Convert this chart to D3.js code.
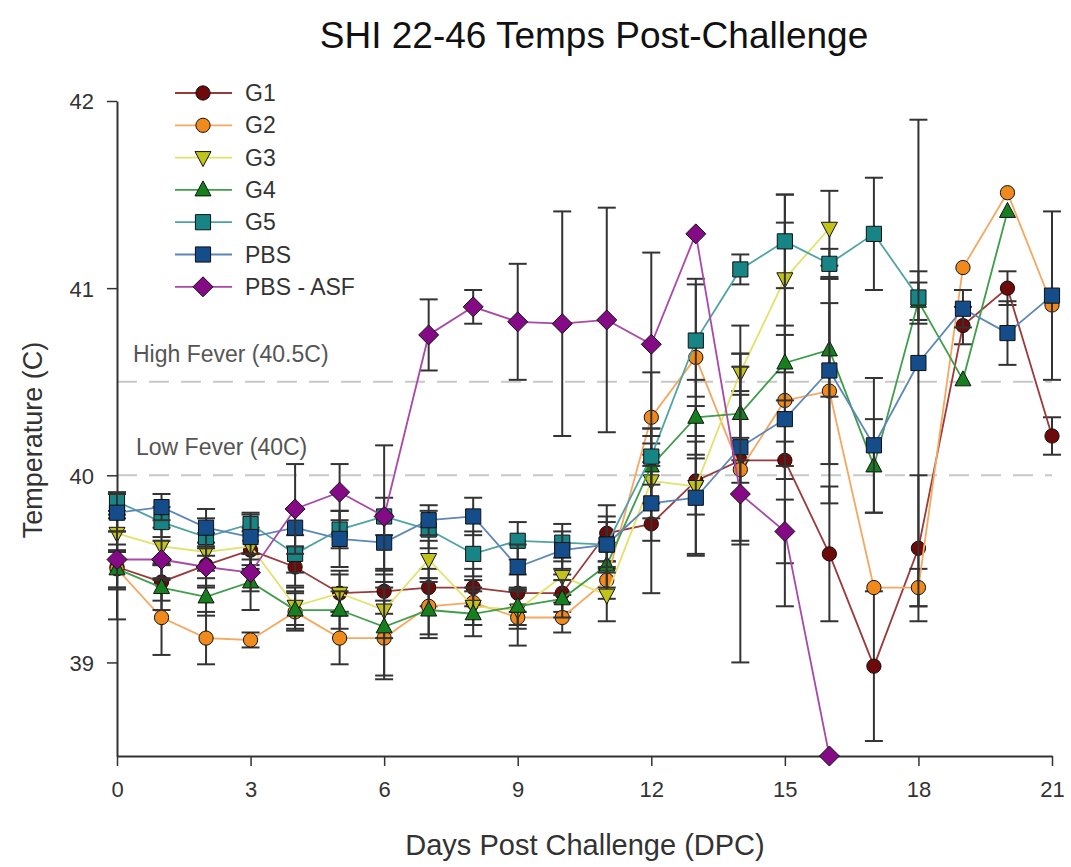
<!DOCTYPE html>
<html>
<head>
<meta charset="utf-8">
<script src="https://cdn.jsdelivr.net/npm/d3@7"></script>
<style>
  body { margin: 0; background: #fff; }
  text { font-family: "Liberation Sans", Arial, sans-serif; }
</style>
</head>
<body>
<div id="chart"></div>
<script>
// days post challenge
var days = d3.range(0, 22);

var seriesNames = ["G1", "G2", "G3", "G4", "G5", "PBS", "PBS - ASF"];

// mean temps (null = no animals left)
var g1 = [39.51, 39.43, 39.52, 39.60, 39.51, 39.37, 39.38, 39.40, 39.40, 39.37, 39.37, 39.69, 39.74, 39.97, 40.08, 40.08, 39.58, 38.98, 39.61, 40.80, 41.00, 40.21];
var g2 = [39.50, 39.24, 39.13, 39.12, 39.27, 39.13, 39.13, 39.30, 39.32, 39.24, 39.24, 39.44, 40.31, 40.63, 40.03, 40.40, 40.45, 39.40, 39.40, 41.11, 41.51, 40.91];
var g3 = [39.69, 39.62, 39.59, 39.62, 39.30, 39.37, 39.28, 39.55, 39.30, 39.28, 39.46, 39.36, 39.97, 39.94, 40.55, 41.05, 41.32, null, null, null, null, null];
var g4 = [39.50, 39.40, 39.35, 39.43, 39.28, 39.28, 39.19, 39.28, 39.26, 39.30, 39.34, 39.52, 40.05, 40.31, 40.33, 40.60, 40.67, 40.05, 40.93, 40.51, 41.41, null];
var g5 = [39.86, 39.75, 39.67, 39.74, 39.58, 39.71, 39.78, 39.71, 39.58, 39.65, 39.64, 39.63, 40.10, 40.72, 41.10, 41.25, 41.13, 41.29, 40.95, null, null, null];
var pbs = [39.80, 39.83, 39.72, 39.67, 39.72, 39.66, 39.64, 39.76, 39.78, 39.51, 39.60, 39.63, 39.85, 39.88, 40.15, 40.30, 40.56, 40.16, 40.60, 40.89, 40.76, 40.96];
var pbsAsf = [39.55, 39.55, 39.51, 39.48, 39.82, 39.91, 39.78, 40.75, 40.90, 40.82, 40.81, 40.83, 40.70, 41.29, 39.90, 39.70, 38.50, null, null, null, null, null];

// error bar half widths
var g1Err = [0.12, 0.10, 0.12, 0.10, 0.10, 0.10, 0.12, 0.10, 0.10, 0.10, 0.10, 0.15, 0.37, 0.40, 0.12, 0.10, 0.36, 0.40, 0.39, 0.10, 0.09, 0.10];
var g2Err = [0.27, 0.20, 0.14, 0.04, 0.10, 0.14, 0.20, 0.15, 0.12, 0.15, 0.08, 0.10, 0.24, 0.42, 0.40, 1.10, 0.60, 0, 0.10, 0, 0, 0];
var g3Err = [0.10, 0.10, 0.10, 0.10, 0.10, 0.12, 0.15, 0.10, 0.10, 0.10, 0.10, 0.14, 0.20, 0.15, 0.10, 0.30, 0.20, 0, 0, 0, 0, 0];
var g4Err = [0.10, 0.12, 0.10, 0.15, 0.10, 0.10, 0.28, 0.15, 0.12, 0.10, 0.10, 0.12, 0.20, 0.20, 0.25, 0.20, 0.25, 0.25, 0.10, 0, 0, 0];
var g5Err = [0.05, 0.08, 0.10, 0.06, 0.10, 0.10, 0.10, 0.10, 0.12, 0.10, 0.10, 0.12, 0.15, 0.30, 0.08, 0.25, 0.08, 0.30, 0.14, 0, 0, 0];
var pbsErr = [0.10, 0.07, 0.10, 0.12, 0.10, 0.15, 0.15, 0.08, 0.10, 0.12, 0.10, 0.15, 0.20, 0.30, 0.50, 0.25, 0.50, 0.36, 1.30, 0.10, 0.17, 0.45];
var pbsAsfErr = [0.15, 0.10, 0.10, 0.10, 0.24, 0.15, 0.38, 0.19, 0.09, 0.31, 0.60, 0.60, 0.49, 0, 0.90, 0.17, 0, 0, 0, 0, 0, 0];

var xTicks = [0, 3, 6, 9, 12, 15, 18, 21];
var yTicks = [39, 40, 41, 42];
var feverLevels = [40.5, 40];
var feverLabels = ["High Fever (40.5C)", "Low Fever (40C)"];

var series = [
  {name: seriesNames[0], vals: g1, err: g1Err, fill: "#6e0a0a", stroke: "#9a3a3a", shape: "circle"},
  {name: seriesNames[1], vals: g2, err: g2Err, fill: "#f08a1c", stroke: "#f4a860", shape: "circle"},
  {name: seriesNames[2], vals: g3, err: g3Err, fill: "#c2c21a", stroke: "#e2e26a", shape: "down"},
  {name: seriesNames[3], vals: g4, err: g4Err, fill: "#17801e", stroke: "#3e9e4a", shape: "up"},
  {name: seriesNames[4], vals: g5, err: g5Err, fill: "#178585", stroke: "#4fa3a3", shape: "square"},
  {name: seriesNames[5], vals: pbs, err: pbsErr, fill: "#144d8a", stroke: "#5d86b8", shape: "square"},
  {name: seriesNames[6], vals: pbsAsf, err: pbsAsfErr, fill: "#850a85", stroke: "#a849a8", shape: "diamond"}
];

var W = 1071, H = 867;
var margin = {left: 117, right: 19, top: 101, bottom: 111};

var svg = d3.select("#chart").append("svg")
  .attr("width", W)
  .attr("height", H);

var x = d3.scaleLinear().domain([0, 21]).range([margin.left, W - margin.right]);
var y = d3.scaleLinear().domain([38.5, 42]).range([H - margin.bottom, margin.top]);

function symPath(shape) {
  if (shape === "up") return "M0,-9L8,6L-8,6Z";
  if (shape === "down") return "M0,9L8,-6L-8,-6Z";
  if (shape === "diamond") return "M0,-10L10,0L0,10L-10,0Z";
  if (shape === "square") return d3.symbol().type(d3.symbolSquare).size(230)();
  return d3.symbol().type(d3.symbolCircle).size(160)();
}

// title
svg.append("text")
  .attr("x", 594).attr("y", 48)
  .attr("text-anchor", "middle")
  .style("font-size", "37px")
  .attr("fill", "#111")
  .text("SHI 22-46 Temps Post-Challenge");

// fever reference lines
svg.selectAll("line.fever").data(feverLevels).enter().append("line")
  .attr("class", "fever")
  .attr("x1", x(0)).attr("x2", x(21))
  .attr("y1", function(d) { return y(d); })
  .attr("y2", function(d) { return y(d); })
  .attr("stroke", "#c8c8c8").attr("stroke-width", 2)
  .attr("stroke-dasharray", "20,12");

svg.selectAll("text.fever").data(feverLabels).enter().append("text")
  .attr("class", "fever")
  .attr("x", function(d, i) { return i === 0 ? 133 : 136; })
  .attr("y", function(d, i) { return y(feverLevels[i]) - 20; })
  .style("font-size", "23px")
  .attr("fill", "#555")
  .text(function(d) { return d; });

// axes
var xAxis = svg.append("g")
  .attr("transform", "translate(0," + y(38.5) + ")")
  .call(d3.axisBottom(x).tickValues(xTicks).tickSize(10).tickPadding(15).tickSizeOuter(0));
var yAxis = svg.append("g")
  .attr("transform", "translate(" + x(0) + ",0)")
  .call(d3.axisLeft(y).tickValues(yTicks).tickFormat(d3.format("d")).tickSize(10).tickPadding(13).tickSizeOuter(0));

[xAxis, yAxis].forEach(function(g) {
  g.select(".domain").attr("stroke", "#333").attr("stroke-width", 2);
  g.selectAll(".tick line").attr("stroke", "#333").attr("stroke-width", 1.5);
  g.selectAll(".tick text")
    .style("font-family", "Liberation Sans, Arial, sans-serif")
    .style("font-size", "22px").attr("fill", "#333");
});
yAxis.selectAll(".tick text").attr("dy", "0.36em");

// axis titles
svg.append("text")
  .attr("x", 585).attr("y", 855)
  .attr("text-anchor", "middle")
  .style("font-size", "29px").attr("fill", "#333")
  .text("Days Post Challenge (DPC)");
svg.append("text")
  .attr("transform", "translate(42,440) rotate(-90)")
  .attr("text-anchor", "middle")
  .style("font-size", "27px").attr("fill", "#333")
  .text("Temperature (C)");

// series: error bars, line, markers
var line = d3.line()
  .defined(function(d) { return d.v !== null; })
  .x(function(d) { return x(d.day); })
  .y(function(d) { return y(d.v); });

series.forEach(function(s) {
  var pts = days.map(function(day, i) { return {day: day, v: s.vals[i], e: s.err[i]}; });
  var g = svg.append("g");
  var bars = pts.filter(function(p) { return p.v !== null && p.e > 0; });

  g.selectAll("line.bar").data(bars).enter().append("line")
    .attr("x1", function(p) { return x(p.day); })
    .attr("x2", function(p) { return x(p.day); })
    .attr("y1", function(p) { return y(p.v - p.e); })
    .attr("y2", function(p) { return y(p.v + p.e); })
    .attr("stroke", "#333").attr("stroke-width", 2);
  [-1, 1].forEach(function(sign) {
    g.selectAll("line.cap" + sign).data(bars).enter().append("line")
      .attr("x1", function(p) { return x(p.day) - 9; })
      .attr("x2", function(p) { return x(p.day) + 9; })
      .attr("y1", function(p) { return y(p.v + sign * p.e); })
      .attr("y2", function(p) { return y(p.v + sign * p.e); })
      .attr("stroke", "#333").attr("stroke-width", 2);
  });

  g.append("path").datum(pts)
    .attr("d", line)
    .attr("fill", "none")
    .attr("stroke", s.stroke)
    .attr("stroke-width", 1.8);

  g.selectAll("path.pt").data(pts.filter(function(p) { return p.v !== null; }))
    .enter().append("path")
    .attr("transform", function(p) { return "translate(" + x(p.day) + "," + y(p.v) + ")"; })
    .attr("d", symPath(s.shape))
    .attr("fill", s.fill)
    .attr("stroke", "#111").attr("stroke-width", 1);
});

// legend
var legend = svg.append("g");
var leg = legend.selectAll("g").data(series).enter().append("g")
  .attr("transform", function(d, i) { return "translate(0," + (93 + i * 32.3) + ")"; });
leg.append("line")
  .attr("x1", 175).attr("x2", 232)
  .attr("stroke", function(d) { return d.stroke; })
  .attr("stroke-width", 1.8);
leg.append("path")
  .attr("transform", "translate(203,0)")
  .attr("d", function(d) { return symPath(d.shape); })
  .attr("fill", function(d) { return d.fill; })
  .attr("stroke", "#111").attr("stroke-width", 1);
leg.append("text")
  .attr("x", 245).attr("y", 8)
  .style("font-size", "23px").attr("fill", "#333")
  .text(function(d) { return d.name; });
</script>
</body>
</html>
